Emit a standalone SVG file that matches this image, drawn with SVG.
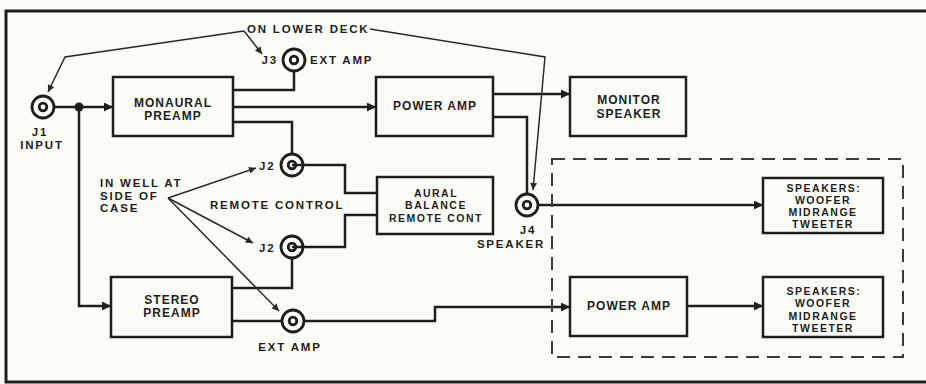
<svg xmlns="http://www.w3.org/2000/svg" width="926" height="384" viewBox="0 0 926 384">
<defs>
<style>
.box{fill:none;stroke:#1e1e1e;stroke-width:2.5}
.w{fill:none;stroke:#1e1e1e;stroke-width:2.5}
.ld{fill:none;stroke:#2a2a2a;stroke-width:1.5}
.jk{fill:none;stroke:#1e1e1e;stroke-width:2.8}
.t{font-family:"Liberation Sans",Arial,sans-serif;font-weight:bold;font-size:12px;fill:#1e1e1e;letter-spacing:1px}
.c{font-family:"Liberation Sans",Arial,sans-serif;font-weight:bold;font-size:10.5px;fill:#1e1e1e;letter-spacing:1.5px}
.s{font-family:"Liberation Sans",Arial,sans-serif;font-weight:bold;font-size:11.5px;fill:#1e1e1e;letter-spacing:1.8px}
.m{text-anchor:middle}
.dash{fill:none;stroke:#3a3a3a;stroke-width:2;stroke-dasharray:13 8}
</style>
<marker id="a" viewBox="0 0 10 10" refX="10" refY="5" markerUnits="userSpaceOnUse" markerWidth="10" markerHeight="9" orient="auto"><path d="M0,0 L10,5 L0,10 z" fill="#1e1e1e"/></marker>
<marker id="b" viewBox="0 0 10 10" refX="10" refY="5" markerUnits="userSpaceOnUse" markerWidth="9" markerHeight="7" orient="auto"><path d="M0,0 L10,5 L0,10 z" fill="#2a2a2a"/></marker>
</defs>
<rect width="926" height="384" fill="#fcfcf7"/>
<path d="M926,11 H6 V382 H926" fill="none" stroke="#1e1e1e" stroke-width="3"/>

<g id="connectors">
<path class="w" d="M54,107 H113" marker-end="url(#a)"/>
<path class="w" d="M79,107 V306 H111" marker-end="url(#a)"/>
<circle cx="79" cy="107" r="4.5" fill="#1e1e1e"/>
<path class="w" d="M233,90 H294 V71"/>
<path class="w" d="M233,107 H376" marker-end="url(#a)"/>
<path class="w" d="M233,122 H292 V154"/>
<path class="w" d="M292,165 H345 V193 H377"/>
<path class="w" d="M292,247 H345 V215 H377"/>
<path class="w" d="M292,258 V288 H232"/>
<path class="w" d="M232,321 H282"/>
<path class="w" d="M304,321 H435 V307 H570" marker-end="url(#a)"/>
<path class="w" d="M493,94 H570" marker-end="url(#a)"/>
<path class="w" d="M493,117 H527 V194"/>
<path class="w" d="M538,205 H763" marker-end="url(#a)"/>
<path class="w" d="M687,306 H763" marker-end="url(#a)"/>
<path class="ld" d="M244,31 L65,57 L48,92" marker-end="url(#b)"/>
<path class="ld" d="M244,31 L262,54" marker-end="url(#b)"/>
<path class="ld" d="M370,29 L545,57 L533,190" marker-end="url(#b)"/>
<path class="ld" d="M168,198 L256,168" marker-end="url(#b)"/>
<path class="ld" d="M168,198 L253,243" marker-end="url(#b)"/>
<path class="ld" d="M168,198 L279,311" marker-end="url(#b)"/>
</g>

<g id="frame-dashed"><rect class="dash" x="552" y="159" width="351" height="198"/></g>

<g id="j1">
<circle class="jk" cx="43" cy="107" r="11"/><circle class="jk" cx="43" cy="107" r="3.8" stroke-width="2.2"/>
<text class="s m" x="40" y="136">J1</text>
<text class="s m" x="42" y="149">INPUT</text>
</g>
<g id="j3">
<circle class="jk" cx="294" cy="60" r="11"/><circle class="jk" cx="294" cy="60" r="3.8" stroke-width="2.2"/>
<text class="s" x="278" y="64" text-anchor="end" letter-spacing="1">J3</text>
<text class="s" x="310" y="64" letter-spacing="1">EXT AMP</text>
</g>
<g id="j2a">
<circle class="jk" cx="292" cy="165" r="11"/><circle class="jk" cx="292" cy="165" r="3.8" stroke-width="2.2"/>
<text class="s" x="259" y="170" letter-spacing="1">J2</text>
</g>
<g id="j2b">
<circle class="jk" cx="292" cy="247" r="11"/><circle class="jk" cx="292" cy="247" r="3.8" stroke-width="2.2"/>
<text class="s" x="259" y="252" letter-spacing="1">J2</text>
</g>
<g id="extamp">
<circle class="jk" cx="293" cy="321" r="11"/><circle class="jk" cx="293" cy="321" r="3.8" stroke-width="2.2"/>
<text class="s m" x="290" y="351">EXT AMP</text>
</g>
<g id="j4">
<circle class="jk" cx="527" cy="205" r="11"/><circle class="jk" cx="527" cy="205" r="3.8" stroke-width="2.2"/>
<text class="s m" x="528" y="234">J4</text>
<text class="s m" x="511" y="248">SPEAKER</text>
</g>

<g id="monaural">
<rect class="box" x="113" y="77" width="120" height="59"/>
<text class="t m" x="173" y="107">MONAURAL</text>
<text class="t m" x="173" y="120">PREAMP</text>
</g>
<g id="stereo">
<rect class="box" x="111" y="277" width="121" height="60"/>
<text class="t m" x="172" y="304">STEREO</text>
<text class="t m" x="172" y="317">PREAMP</text>
</g>
<g id="poweramp1">
<rect class="box" x="376" y="77" width="117" height="59"/>
<text class="t m" x="435" y="110">POWER AMP</text>
</g>
<g id="monitor">
<rect class="box" x="570" y="77" width="116" height="59"/>
<text class="t m" x="629" y="104">MONITOR</text>
<text class="t m" x="629" y="118">SPEAKER</text>
</g>
<g id="aural">
<rect class="box" x="377" y="177" width="116" height="57"/>
<text class="c m" x="436" y="197">AURAL</text>
<text class="c m" x="436" y="209">BALANCE</text>
<text class="c m" x="436" y="222">REMOTE CONT</text>
</g>
<g id="poweramp2">
<rect class="box" x="570" y="277" width="117" height="59"/>
<text class="t m" x="629" y="310">POWER AMP</text>
</g>
<g id="speakers1">
<rect class="box" x="763" y="178" width="120" height="55"/>
<text class="c m" x="824" y="192">SPEAKERS:</text>
<text class="c m" x="823" y="204">WOOFER</text>
<text class="c m" x="823" y="216">MIDRANGE</text>
<text class="c m" x="823" y="228">TWEETER</text>
</g>
<g id="speakers2">
<rect class="box" x="763" y="277" width="120" height="60"/>
<text class="c m" x="824" y="295">SPEAKERS:</text>
<text class="c m" x="823" y="307">WOOFER</text>
<text class="c m" x="823" y="320">MIDRANGE</text>
<text class="c m" x="823" y="332">TWEETER</text>
</g>

<g id="notes">
<text class="s" x="247" y="33">ON LOWER DECK</text>
<text class="s" x="100" y="187">IN WELL AT</text>
<text class="s" x="100" y="200">SIDE OF</text>
<text class="s" x="100" y="212">CASE</text>
<text class="s" x="210" y="209">REMOTE CONTROL</text>
</g>
</svg>
